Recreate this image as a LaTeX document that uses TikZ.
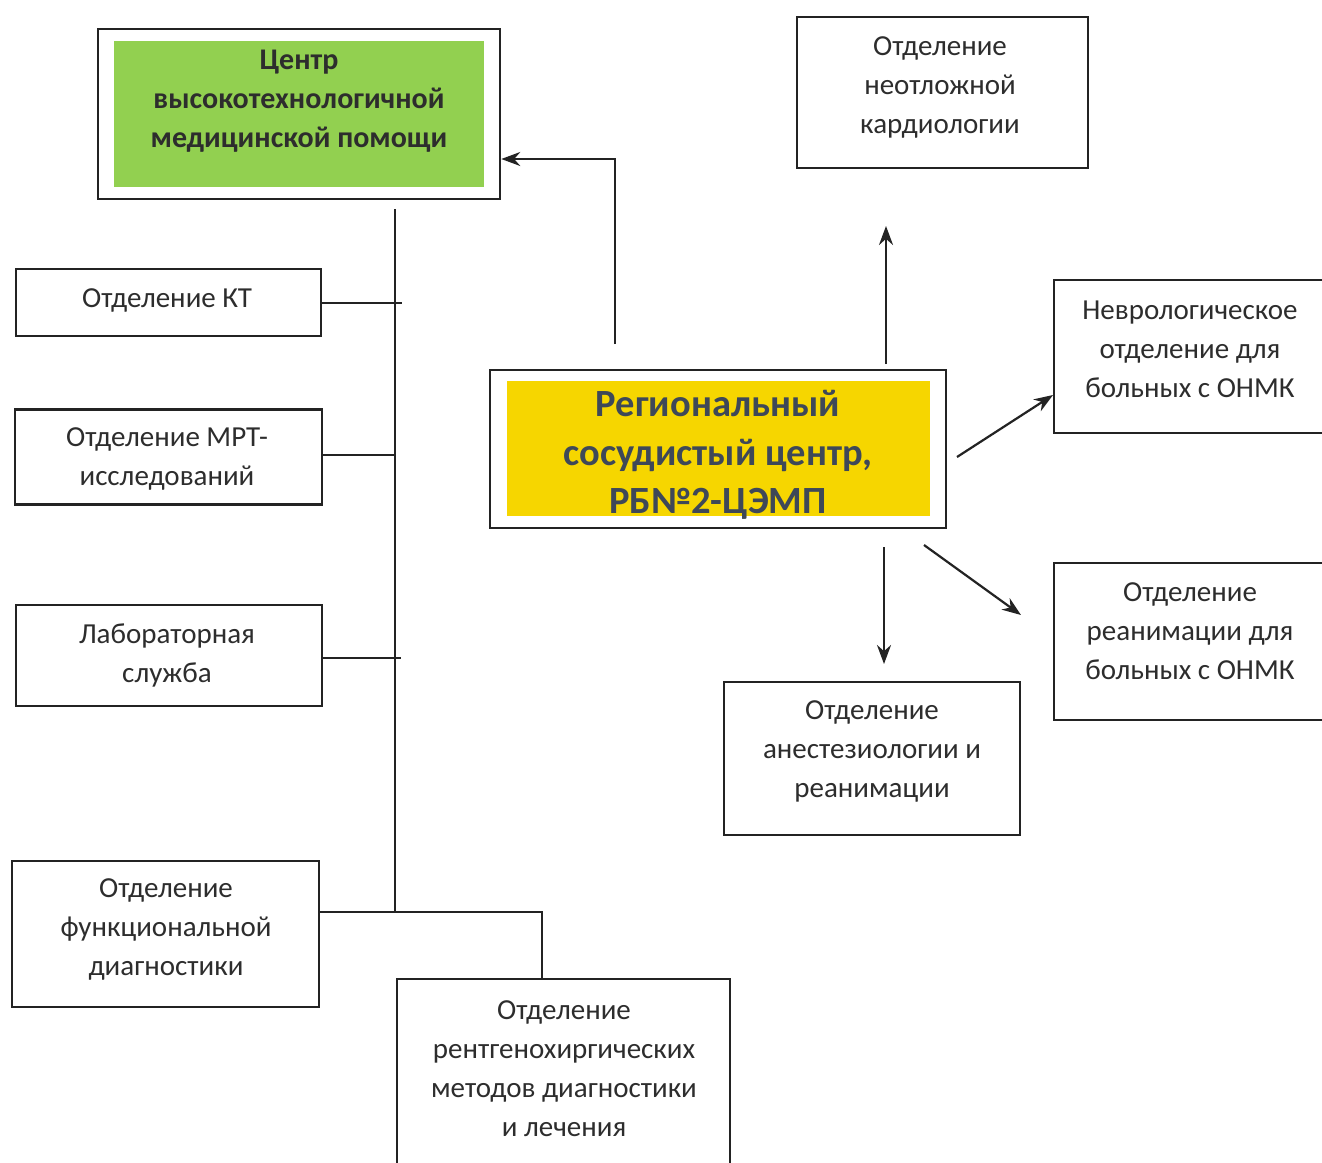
\documentclass[tikz,border=0pt]{standalone}
\usepackage{fontspec}
\setmainfont{Carlito}
\usetikzlibrary{arrows.meta,calc}
\definecolor{boxgreen}{RGB}{146,208,80}
\definecolor{boxyellow}{RGB}{246,214,0}
\definecolor{inkgray}{RGB}{45,45,45}
\definecolor{slate}{RGB}{62,72,88}
\definecolor{linegray}{RGB}{35,35,35}
\begin{document}
\begin{tikzpicture}[x=1pt,y=-1pt,
  dept/.style={draw=linegray, line width=2.6pt, rectangle, inner sep=0pt},
  fillbox/.style={rectangle, inner sep=0pt, draw=none},
  txt/.style={align=center, inner sep=0pt, text=inkgray, font=\fontsize{29}{39}\selectfont},
  gtxt/.style={align=center, inner sep=0pt, text=inkgray, font=\bfseries\fontsize{30}{39}\selectfont},
  ytxt/.style={align=center, inner sep=0pt, text=slate, font=\bfseries\fontsize{38.5}{48.5}\selectfont},
  conn/.style={draw=linegray, line width=2.2pt},
  arr/.style={conn, -{Stealth[length=19pt,width=14pt]}},
]
\useasboundingbox (0,0) rectangle (1322,1162);
\clip (0,0) rectangle (1322,1162);
\fill[white] (0,0) rectangle (1322,1162);

% green centre
\node[fillbox, fill=boxgreen, minimum width=370, minimum height=146] (greenfill) at (299,114) {};
\node[dept, minimum width=402, minimum height=170] (greenbox) at (299,114) {};
\node[gtxt] (greentxt) at (299,101) {Центр\\высокотехнологичной\\медицинской помощи};

% yellow centre
\node[fillbox, fill=boxyellow, minimum width=423, minimum height=135] (yellowfill) at (718.5,448.5) {};
\node[dept, minimum width=456, minimum height=158] (yellowbox) at (718,449) {};
\node[ytxt] (yellowtxt) at (718,455) {Региональный\\сосудистый центр,\\РБ№2-ЦЭМП};

% left column
\node[dept, minimum width=305, minimum height=67] (kt) at (168.5,302.5) {};
\node[txt] (kt-t) at (167,300) {Отделение КТ};
\node[dept, minimum width=307, minimum height=95] (mrt) at (168.5,457) {};
\node[txt] (mrt-t) at (167,459) {Отделение МРТ-\\исследований};
\node[dept, minimum width=306, minimum height=101] (lab) at (169,655.5) {};
\node[txt] (lab-t) at (167,655) {Лабораторная\\служба};
\node[dept, minimum width=307, minimum height=146] (func) at (165.5,934) {};
\node[txt] (func-t) at (166,929) {Отделение\\функциональной\\диагностики};
\node[dept, minimum width=333, minimum height=201] (rentgen) at (563.5,1079.5) {};
\node[txt] (rentgen-t) at (564,1069) {Отделение\\рентгенохиргических\\методов диагностики\\и лечения};

% right side
\node[dept, minimum width=291, minimum height=151] (kardio) at (942.5,92.5) {};
\node[txt] (kardio-t) at (940,87) {Отделение\\неотложной\\кардиологии};
\node[dept, minimum width=274, minimum height=153] (neuro) at (1191,356.5) {};
\node[txt] (neuro-t) at (1190,349) {Неврологическое\\отделение для\\больных с ОНМК};
\node[dept, minimum width=274, minimum height=157] (reanim) at (1191,641.5) {};
\node[txt] (reanim-t) at (1190,631) {Отделение\\реанимации для\\больных с ОНМК};
\node[dept, minimum width=296, minimum height=153] (anest) at (872,758.5) {};
\node[txt] (anest-t) at (872,751) {Отделение\\анестезиологии и\\реанимации};

% connector points
\coordinate (trunktop) at (395,209);
\coordinate (trunkbot) at (395,912);
\coordinate (ktend) at (402,303);
\coordinate (mrtend) at (395,455);
\coordinate (labend) at (401,658);
\coordinate (bend) at (542,912);
\coordinate (upstart) at (615,344);
\coordinate (kstart) at (886,364);
\coordinate (kend) at (886,226);
\coordinate (nstart) at (957,457);
\coordinate (nend) at (1053,395);
\coordinate (rstart) at (924,545);
\coordinate (rend) at (1021,615);
\coordinate (astart) at (884,547);
\coordinate (aend) at (884,664);

% left tree
\draw[conn] (trunktop) -- (trunkbot);
\draw[conn] (kt.east |- ktend) -- (ktend);
\draw[conn] (mrt.east |- mrtend) -- (mrtend);
\draw[conn] (lab.east |- labend) -- (labend);
\draw[conn] (func.east |- trunkbot) -- (bend) -- (bend |- rentgen.north);

% arrows from the regional centre
\draw[arr] (upstart) |- ([yshift=-45pt]greenbox.east);
\draw[arr] (kstart) -- (kend);
\draw[arr] (nstart) -- (nend);
\draw[arr] (rstart) -- (rend);
\draw[arr] (astart) -- (aend);
\end{tikzpicture}
\end{document}
